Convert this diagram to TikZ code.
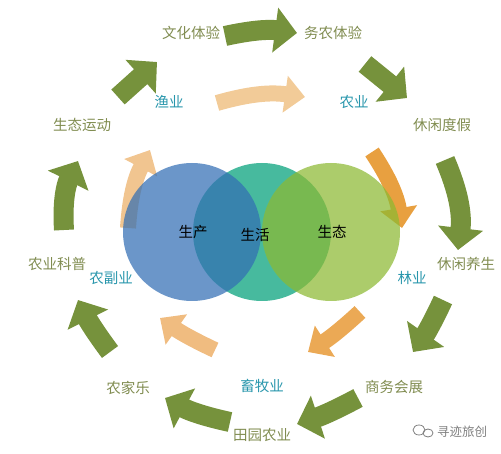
\documentclass[tikz,border=0pt]{standalone}
\usepackage{fontspec}
\setmainfont{Noto Sans CJK SC}
\usetikzlibrary{arrows.meta}

\definecolor{arrowgreen}{RGB}{118,146,60}
\definecolor{labelgreen}{RGB}{128,140,80}
\definecolor{labelteal}{RGB}{40,150,172}
\definecolor{circblue}{RGB}{50,110,180}
\definecolor{circteal}{RGB}{0,160,120}
\definecolor{circgreen}{RGB}{140,185,50}
\definecolor{peachA}{RGB}{242,203,152}
\definecolor{peachB}{RGB}{232,160,64}
\definecolor{peachC}{RGB}{235,169,85}
\definecolor{peachD}{RGB}{240,188,128}
\definecolor{peachE}{RGB}{241,197,144}

\tikzset{
  outarrow/.style={draw=arrowgreen, line width=20pt, -{Triangle[length=22pt,width=44pt]}},
  inarrow/.style={line width=16pt, -{Triangle[length=20pt,width=36pt]}},
  outlabel/.style={text=labelgreen, font=\fontsize{14.5}{16}\selectfont},
  inlabel/.style={text=labelteal, font=\fontsize{14.5}{16}\selectfont},
  corelabel/.style={text=black, font=\fontsize{14.5}{16}\selectfont},
  ring/.style={circle, minimum size=138pt, inner sep=0pt, fill opacity=0.72}
}

\begin{document}
\begin{tikzpicture}[x=1pt, y=1pt]
  \useasboundingbox (0,0) rectangle (501,453);

  % outer ring labels
  \node (wenhua) [outlabel] at (191,420) {文化体验};
  \node (wunong) [outlabel] at (333,420) {务农体验};
  \node (dujia)  [outlabel] at (442,328) {休闲度假};
  \node (yangsheng) [outlabel] at (466,189) {休闲养生};
  \node (huizhan) [outlabel] at (394,66) {商务会展};
  \node (tianyuan) [outlabel] at (262,18) {田园农业};
  \node (nongjia) [outlabel] at (128,65) {农家乐};
  \node (kepu) [outlabel] at (57,189) {农业科普};
  \node (yundong) [outlabel] at (82,328) {生态运动};

  % inner ring labels
  \node (yu) [inlabel] at (169,351) {渔业};
  \node (nong) [inlabel] at (354,351) {农业};
  \node (lin) [inlabel] at (412,175) {林业};
  \node (xumu) [inlabel] at (262,67) {畜牧业};
  \node (fu) [inlabel] at (111,175) {农副业};

  % arrow ends
  \foreach \n/\x/\y in {o1a/225/417, o1b/297/420, o2a/365/389, o2b/407/355,
      o3a/445/293, o3b/458/203, o4a/443/153, o4b/413/101, o5a/358/55, o5b/297/29,
      o6a/230/31, o6b/165/55, o7a/110/101, o7b/78/153, o8a/64/223, o8b/78/292,
      o9a/118/356, o9b/157/391,
      i1a/217/350, i1b/305/356, i2a/372/301, i2b/402/225, i3a/360/141, i3b/308/101,
      i4a/215/103, i4b/160/135, i5a/128/225, i5b/150/303}
    \coordinate (\n) at (\x,\y);

  % outer arrows
  \draw[outarrow] (o1a) to[bend left=10] (o1b);
  \draw[outarrow] (o2a) -- (o2b);
  \draw[outarrow] (o3a) to[bend left=15] (o3b);
  \draw[outarrow] (o4a) to[bend left=5] (o4b);
  \draw[outarrow] (o5a) to[bend left=5] (o5b);
  \draw[outarrow] (o6a) to[bend left=8] (o6b);
  \draw[outarrow] (o7a) to[bend left=5] (o7b);
  \draw[outarrow] (o8a) to[bend left=15] (o8b);
  \draw[outarrow] (o9a) -- (o9b);

  % inner arrows
  \draw[inarrow, draw=peachA] (i1a) to[bend left=12] (i1b);
  \draw[inarrow, draw=peachB] (i2a) to[bend left=12] (i2b);
  \draw[inarrow, draw=peachC] (i3a) to[bend left=5] (i3b);
  \draw[inarrow, draw=peachD] (i4a) to[bend left=5] (i4b);
  \draw[inarrow, draw=peachE] (i5a) to[bend left=12] (i5b);

  % three circles
  \node (huo) [ring, fill=circteal] at (262,221) {};
  \node (chan) [ring, fill=circblue] at (192,221) {};
  \node (tai) [ring, fill=circgreen] at (331,221) {};
  \node (chantxt) [corelabel] at (193,221) {生产};
  \node (huotxt) [corelabel] at (255,218) {生活};
  \node (taitxt) [corelabel] at (332,221) {生态};

  % watermark
  \draw[gray, line width=0.8pt] (419,23) ellipse (6 and 5);
  \draw[gray, line width=0.8pt] (428,20) ellipse (5 and 4);
  \node (mark) [text=gray, font=\fontsize{12.5}{14}\selectfont] at (462,21) {寻迹旅创};
\end{tikzpicture}
\end{document}
